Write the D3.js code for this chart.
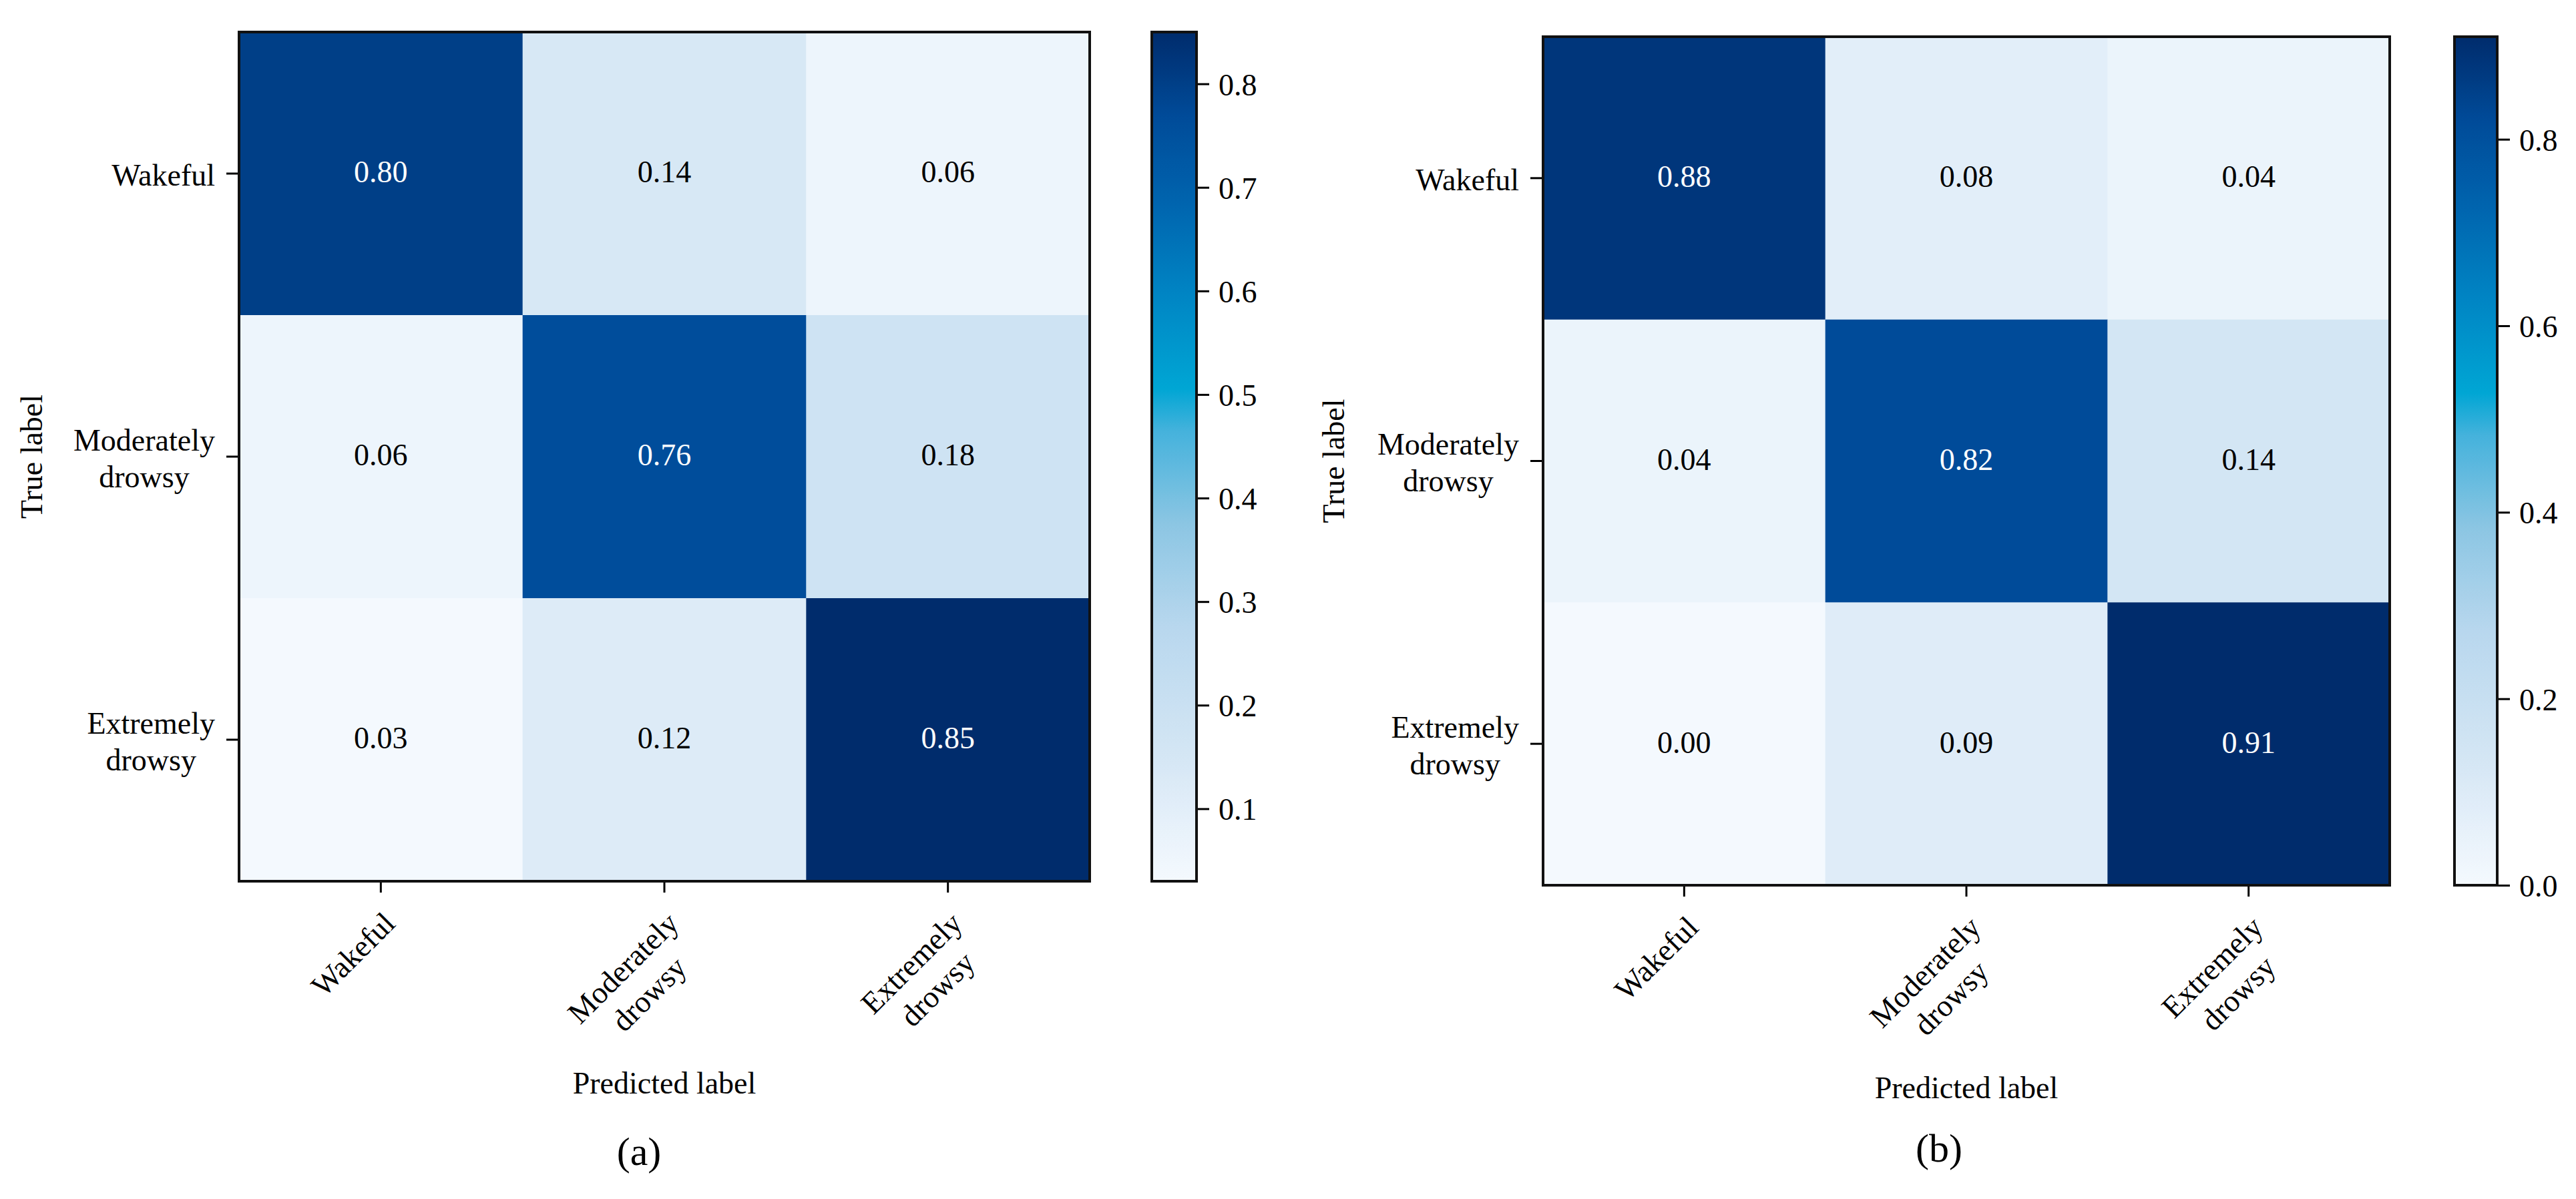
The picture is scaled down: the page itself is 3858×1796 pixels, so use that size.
<!DOCTYPE html>
<html>
<head>
<meta charset="utf-8">
<script src="https://cdn.jsdelivr.net/npm/d3@7"></script>
<style>
  html, body { margin: 0; padding: 0; background: #fff; }
  text { font-family: "Liberation Serif", "Times New Roman", serif; fill: #000; }
</style>
</head>
<body>
<svg id="chart" width="3858" height="1796"></svg>
<script>
// ========== Data ==========

const classLabels = ["Wakeful", "Moderately\ndrowsy", "Extremely\ndrowsy"];

const matrixA = [
    [0.80, 0.14, 0.06],
    [0.06, 0.76, 0.18],
    [0.03, 0.12, 0.85]
];

const matrixB = [
    [0.88, 0.08, 0.04],
    [0.04, 0.82, 0.14],
    [0.00, 0.09, 0.91]
];

const colorbarTicksA = [0.1, 0.2, 0.3, 0.4, 0.5, 0.6, 0.7, 0.8];
const colorbarTicksB = [0.0, 0.2, 0.4, 0.6, 0.8];

// colour map stops (position 0..1 along the bar)
const cmapPos = [0, 0.05, 0.1, 0.15, 0.3, 0.42, 0.53, 0.58, 0.7, 0.8, 0.9, 1];
const cmapCol = ["#f4f9fe", "#eaf3fb", "#dfecf8", "#d4e6f4", "#b8d7ee", "#8cc6e3",
                 "#45b2dc", "#00a6d4", "#0082c2", "#0064ae", "#004b99", "#002c6c"];

// ========== Setup ==========

const svg = d3.select("#chart");
const fontSize = 46;
const lineH = 55;

const cmap = d3.scaleLinear().domain(cmapPos).range(cmapCol).interpolate(d3.interpolateRgb).clamp(true);

drawPanel({
    id: "a",
    data: matrixA,
    ticks: colorbarTicksA,
    tickFmt: d3.format(".1f"),
    x0: 358, x1: 1632, y0: 48, y1: 1320,
    cbX0: 1725, cbX1: 1792,
    yLabelX: 47,
    xTitleY: 1638,
    capX: 957, capY: 1745
});

drawPanel({
    id: "b",
    data: matrixB,
    ticks: colorbarTicksB,
    tickFmt: d3.format(".1f"),
    x0: 2311, x1: 3579, y0: 55, y1: 1326,
    cbX0: 3676, cbX1: 3740,
    yLabelX: 1997,
    xTitleY: 1645,
    capX: 2904, capY: 1740
});

// ========== Panel ==========

function drawPanel(cfg) {
    const data = cfg.data;
    const flat = data.flat();
    const vmin = d3.min(flat), vmax = d3.max(flat);
    const norm = d3.scaleLinear().domain([vmin, vmax]).range([0, 1]);
    const color = v => cmap(norm(v));

    const idx = d3.range(classLabels.length);
    const x = d3.scaleBand().domain(idx).range([cfg.x0, cfg.x1]);
    const y = d3.scaleBand().domain(idx).range([cfg.y0, cfg.y1]);

    const g = svg.append("g");

    // cells
    const cells = idx.flatMap(r => idx.map(c => ({ r, c, v: data[r][c] })));
    g.selectAll(".cell")
        .data(cells)
        .join("rect")
        .attr("x", d => x(d.c))
        .attr("y", d => y(d.r))
        .attr("width", x.bandwidth() + 0.5)
        .attr("height", y.bandwidth() + 0.5)
        .attr("fill", d => color(d.v));

    const thresh = (vmin + vmax) / 2;
    g.selectAll(".val")
        .data(cells)
        .join("text")
        .attr("x", d => x(d.c) + x.bandwidth() / 2)
        .attr("y", d => y(d.r) + y.bandwidth() / 2)
        .attr("dy", "0.29em")
        .attr("text-anchor", "middle")
        .style("font-size", fontSize + "px")
        .style("fill", d => d.v > thresh ? "#fff" : "#000")
        .text(d => d.v.toFixed(2));

    // frame
    g.append("rect")
        .attr("x", cfg.x0).attr("y", cfg.y0)
        .attr("width", cfg.x1 - cfg.x0).attr("height", cfg.y1 - cfg.y0)
        .attr("fill", "none").attr("stroke", "#111").attr("stroke-width", 4);

    // ticks
    const axB = g.append("g")
        .attr("transform", `translate(0,${cfg.y1 + 2})`)
        .call(d3.axisBottom(x).tickSize(15).tickFormat(""));
    const axL = g.append("g")
        .attr("transform", `translate(${cfg.x0 - 2},0)`)
        .call(d3.axisLeft(y).tickSize(17).tickFormat(""));
    [axB, axL].forEach(a => {
        a.select(".domain").remove();
        a.selectAll(".tick line").attr("stroke", "#000").attr("stroke-width", 3);
    });

    // y tick labels
    idx.forEach(i => {
        const lines = classLabels[i].split("\n");
        const lg = g.append("g")
            .attr("transform", `translate(${cfg.x0 - 36},${y(i) + y.bandwidth() / 2})`);
        multiLine(lg, lines, (k, n) => (k - (n - 1) / 2) * lineH + 0.4 * fontSize);
    });

    // x tick labels, rotated 45 degrees
    idx.forEach(i => {
        const lines = classLabels[i].split("\n");
        const lg = g.append("g")
            .attr("transform", `translate(${x(i) + x.bandwidth() / 2 + 24},${cfg.y1 + 66}) rotate(-45)`);
        multiLine(lg, lines, (k) => k * lineH);
    });

    // axis titles
    g.append("text")
        .attr("transform", `translate(${cfg.yLabelX},${(cfg.y0 + cfg.y1) / 2}) rotate(-90)`)
        .attr("dy", "0.35em")
        .attr("text-anchor", "middle")
        .style("font-size", fontSize + "px")
        .text("True label");

    g.append("text")
        .attr("x", (cfg.x0 + cfg.x1) / 2)
        .attr("y", cfg.xTitleY)
        .attr("text-anchor", "middle")
        .style("font-size", fontSize + "px")
        .text("Predicted label");

    g.append("text")
        .attr("x", cfg.capX)
        .attr("y", cfg.capY)
        .attr("text-anchor", "middle")
        .style("font-size", "60px")
        .text(`(${cfg.id})`);

    // colorbar
    const cb = d3.scaleLinear().domain([vmin, vmax]).range([cfg.y1, cfg.y0]);
    const gradId = "grad-" + cfg.id;
    const grad = svg.append("defs").append("linearGradient")
        .attr("id", gradId)
        .attr("x1", 0).attr("y1", 1).attr("x2", 0).attr("y2", 0);
    grad.selectAll("stop")
        .data(d3.range(0, 1.0001, 0.01))
        .join("stop")
        .attr("offset", d => d)
        .attr("stop-color", d => cmap(d));

    g.append("rect")
        .attr("x", cfg.cbX0).attr("y", cfg.y0)
        .attr("width", cfg.cbX1 - cfg.cbX0).attr("height", cfg.y1 - cfg.y0)
        .attr("fill", `url(#${gradId})`)
        .attr("stroke", "#111").attr("stroke-width", 4);

    const cbAx = g.append("g")
        .attr("transform", `translate(${cfg.cbX1 + 2},0)`)
        .call(d3.axisRight(cb).tickValues(cfg.ticks).tickFormat(cfg.tickFmt).tickSize(17).tickPadding(14));
    cbAx.select(".domain").remove();
    cbAx.selectAll(".tick line").attr("stroke", "#000").attr("stroke-width", 3);
    cbAx.selectAll(".tick text")
        .attr("fill", "#000")
        .attr("dy", "0.36em")
        .style("font-size", fontSize + "px")
        .style("font-family", "'Liberation Serif', 'Times New Roman', serif");
}

// centred multi-line block whose right edge is at x = 0
function multiLine(parent, lines, yFor) {
    const texts = lines.map((t, k) => parent.append("text")
        .attr("y", yFor(k, lines.length))
        .attr("text-anchor", "middle")
        .style("font-size", fontSize + "px")
        .text(t));
    const w = d3.max(texts, t => t.node().getComputedTextLength());
    texts.forEach(t => t.attr("x", -w / 2));
}
</script>
</body>
</html>
